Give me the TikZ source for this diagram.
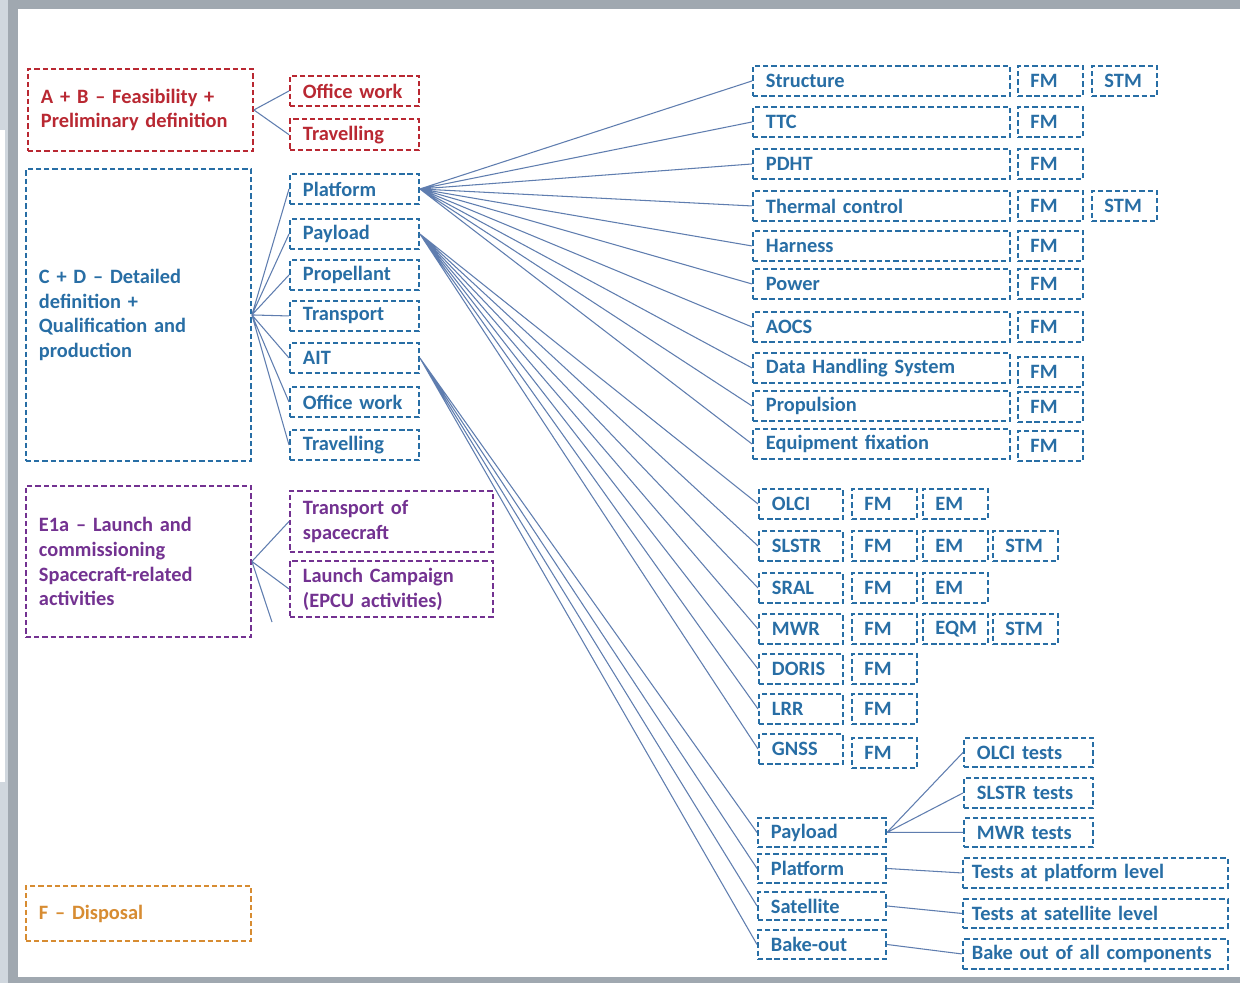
\documentclass[tikz,border=0pt]{standalone}
\usepackage{fontspec}
\setmainfont{Carlito}
\usetikzlibrary{positioning}
\definecolor{abred}{RGB}{185,40,50}
\definecolor{cdblue}{RGB}{40,110,165}
\definecolor{epurple}{RGB}{115,50,145}
\definecolor{forange}{RGB}{215,140,50}
\definecolor{linkc}{RGB}{95,125,175}
\definecolor{frameg}{RGB}{160,168,176}
\definecolor{framel}{RGB}{208,215,222}

\tikzset{
  box/.style={draw, dash pattern=on 3pt off 1.7pt, line width=1.1pt, anchor=north west,
    align=left, inner xsep=0.26cm, inner ysep=0pt, minimum height=0.6cm,
    font=\fontsize{11.6}{14.2}\selectfont\bfseries},
  abbox/.style={box, draw=abred, text=abred},
  cdbox/.style={box, draw=cdblue, text=cdblue},
  ebox/.style={box, draw=epurple, text=epurple},
  fbox/.style={box, draw=forange, text=forange},
  phase/.style={text width=3.98cm},
  lvl/.style={text width=2.06cm},
  lvlw/.style={text width=3.54cm},
  sub/.style={text width=4.62cm},
  mdl/.style={text width=0.8cm, inner xsep=0.25cm},
  ins/.style={text width=1.16cm},
  ait/.style={text width=2.04cm},
  tst/.style={text width=2.06cm},
  tstw/.style={text width=4.94cm, inner xsep=0.18cm},
  link/.style={draw=linkc, line width=0.6pt}
}

\begin{document}
\begin{tikzpicture}[x=0.02cm, y=-0.02cm]
    % frame of the screenshot
    \fill[frameg] (0,0) rectangle (1240,983);
    \fill[framel] (0,0) rectangle (8,983);
    \fill[white] (18,9) rectangle (1240,977);
    \fill[white] (0,130) rectangle (5,782);
    \useasboundingbox (0,0) rectangle (1240,983);

    % phases
    \node[abbox, phase, minimum height=1.64cm] (AB) at (27,68) {A + B -- Feasibility +\\Preliminary definition};
    \node[cdbox, phase, minimum height=5.84cm] (CD) at (25,168) {C + D -- Detailed\\definition +\\Qualification and\\production};
    \node[ebox, phase, minimum height=3.02cm] (E1) at (25,485) {E1a -- Launch and\\commissioning\\Spacecraft-related\\activities};
    \node[fbox, phase, minimum height=1.1cm] (F) at (25,885) {F -- Disposal};

    % A + B
    \node[abbox, lvl] (ABoff) at (289,75) {Office work};
    \node[abbox, lvl, minimum height=0.63cm] (ABtrv) at (289,118) {Travelling};
    \draw[link] (AB.east) -- (ABoff.west) (AB.east) -- (ABtrv.west);

    % C + D
    \node[cdbox, lvl] (plat) at (289,173) {Platform};
    \node[cdbox, lvl] (pay) at (289,218) {Payload};
    \node[cdbox, lvl] (prop) at (289,259) {Propellant};
    \node[cdbox, lvl] (trans) at (289,300) {Transport};
    \node[cdbox, lvl] (ait) at (289,342) {AIT};
    \node[cdbox, lvl] (CDoff) at (289,386) {Office work};
    \node[cdbox, lvl] (CDtrv) at (289,429) {Travelling};
    \draw[link] (CD.east) -- (plat.west) (CD.east) -- (pay.west) (CD.east) -- (prop.west)
      (CD.east) -- (trans.west) (CD.east) -- (ait.west) (CD.east) -- (CDoff.west) (CD.east) -- (CDtrv.west);

    % E1a
    \node[ebox, lvlw, minimum height=1.22cm] (Etr) at (289,490) {Transport of\\spacecraft};
    \node[ebox, lvlw, minimum height=1.12cm] (Ela) at (289,560) {Launch Campaign\\(EPCU activities)};
    \coordinate (Ecut) at (272,622);
    \draw[link] (E1.east) -- (Etr.west) (E1.east) -- (Ela.west) (E1.east) -- (Ecut);

    % platform subsystems
    \node[cdbox, sub] (str) at (752,65) {Structure};
    \node[cdbox, sub] (ttc) at (752,106) {TTC};
    \node[cdbox, sub] (pdht) at (752,148) {PDHT};
    \node[cdbox, sub] (thc) at (752,190) {Thermal control};
    \node[cdbox, sub] (har) at (752,230) {Harness};
    \node[cdbox, sub] (pow) at (752,268) {Power};
    \node[cdbox, sub] (aocs) at (752,311) {AOCS};
    \node[cdbox, sub] (dhs) at (752,352) {Data Handling System};
    \node[cdbox, sub] (pro) at (752,390) {Propulsion};
    \node[cdbox, sub] (eqf) at (752,428) {Equipment fixation};
    \node[cdbox, mdl] (strFM) at (1017,65) {FM};
    \node[cdbox, mdl] (strSTM) at (1091,65) {STM};
    \node[cdbox, mdl] (ttcFM) at (1017,106) {FM};
    \node[cdbox, mdl] (pdhtFM) at (1017,148) {FM};
    \node[cdbox, mdl] (thcFM) at (1017,190) {FM};
    \node[cdbox, mdl] (thcSTM) at (1091,190) {STM};
    \node[cdbox, mdl] (harFM) at (1017,230) {FM};
    \node[cdbox, mdl] (powFM) at (1017,268) {FM};
    \node[cdbox, mdl] (aocsFM) at (1017,311) {FM};
    \node[cdbox, mdl] (dhsFM) at (1017,356) {FM};
    \node[cdbox, mdl] (proFM) at (1017,391) {FM};
    \node[cdbox, mdl] (eqfFM) at (1017,430) {FM};
    \draw[link] (plat.east) -- (str.west) (plat.east) -- (ttc.west) (plat.east) -- (pdht.west)
      (plat.east) -- (thc.west) (plat.east) -- (har.west) (plat.east) -- (pow.west)
      (plat.east) -- (aocs.west) (plat.east) -- (dhs.west) (plat.east) -- (pro.west)
      (plat.east) -- (eqf.west);

    % payload instruments
    \node[cdbox, ins] (olci) at (758,488) {OLCI};
    \node[cdbox, ins] (slstr) at (758,530) {SLSTR};
    \node[cdbox, ins] (sral) at (758,572) {SRAL};
    \node[cdbox, ins] (mwr) at (758,613) {MWR};
    \node[cdbox, ins] (doris) at (758,653) {DORIS};
    \node[cdbox, ins] (lrr) at (758,693) {LRR};
    \node[cdbox, ins] (gnss) at (758,733) {GNSS};
    \node[cdbox, mdl] (olciFM) at (851,488) {FM};
    \node[cdbox, mdl] (olciEM) at (922,488) {EM};
    \node[cdbox, mdl] (slstrFM) at (851,530) {FM};
    \node[cdbox, mdl] (slstrEM) at (922,530) {EM};
    \node[cdbox, mdl] (slstrSTM) at (992,530) {STM};
    \node[cdbox, mdl] (sralFM) at (851,572) {FM};
    \node[cdbox, mdl] (sralEM) at (922,572) {EM};
    \node[cdbox, mdl] (mwrFM) at (851,613) {FM};
    \node[cdbox, mdl] (mwrEQM) at (922,613) {EQM};
    \node[cdbox, mdl] (mwrSTM) at (992,613) {STM};
    \node[cdbox, mdl] (dorisFM) at (851,653) {FM};
    \node[cdbox, mdl] (lrrFM) at (851,693) {FM};
    \node[cdbox, mdl] (gnssFM) at (851,737) {FM};
    \draw[link] (pay.east) -- (olci.west) (pay.east) -- (slstr.west) (pay.east) -- (sral.west)
      (pay.east) -- (mwr.west) (pay.east) -- (doris.west) (pay.east) -- (lrr.west)
      (pay.east) -- (gnss.west);

    % AIT
    \node[cdbox, ait, minimum height=0.58cm] (aitPay) at (757,817) {Payload};
    \node[cdbox, ait, minimum height=0.58cm] (aitPlat) at (757,853) {Platform};
    \node[cdbox, ait, minimum height=0.56cm] (aitSat) at (757,891) {Satellite};
    \node[cdbox, ait, minimum height=0.58cm] (aitBake) at (757,929) {Bake-out};
    \draw[link] (ait.east) -- (aitPay.west) (ait.east) -- (aitPlat.west) (ait.east) -- (aitSat.west)
      (ait.east) -- (aitBake.west);

    % tests
    \node[cdbox, tst, minimum height=0.58cm] (tOlci) at (963,737) {OLCI tests};
    \node[cdbox, tst] (tSlstr) at (963,777) {SLSTR tests};
    \node[cdbox, tst, minimum height=0.58cm] (tMwr) at (963,817) {MWR tests};
    \node[cdbox, tstw] (tPlat) at (962,857) {Tests at platform level};
    \node[cdbox, tstw, minimum height=0.58cm] (tSat) at (962,898) {Tests at satellite level};
    \node[cdbox, tstw] (tBake) at (962,938) {Bake out of all components};
    \draw[link] (aitPay.east) -- (tOlci.west) (aitPay.east) -- (tSlstr.west) (aitPay.east) -- (tMwr.west);
    \draw[link] (aitPlat.east) -- (tPlat.west);
    \draw[link] (aitSat.east) -- (tSat.west);
    \draw[link] (aitBake.east) -- (tBake.west);
\end{tikzpicture}
\end{document}
